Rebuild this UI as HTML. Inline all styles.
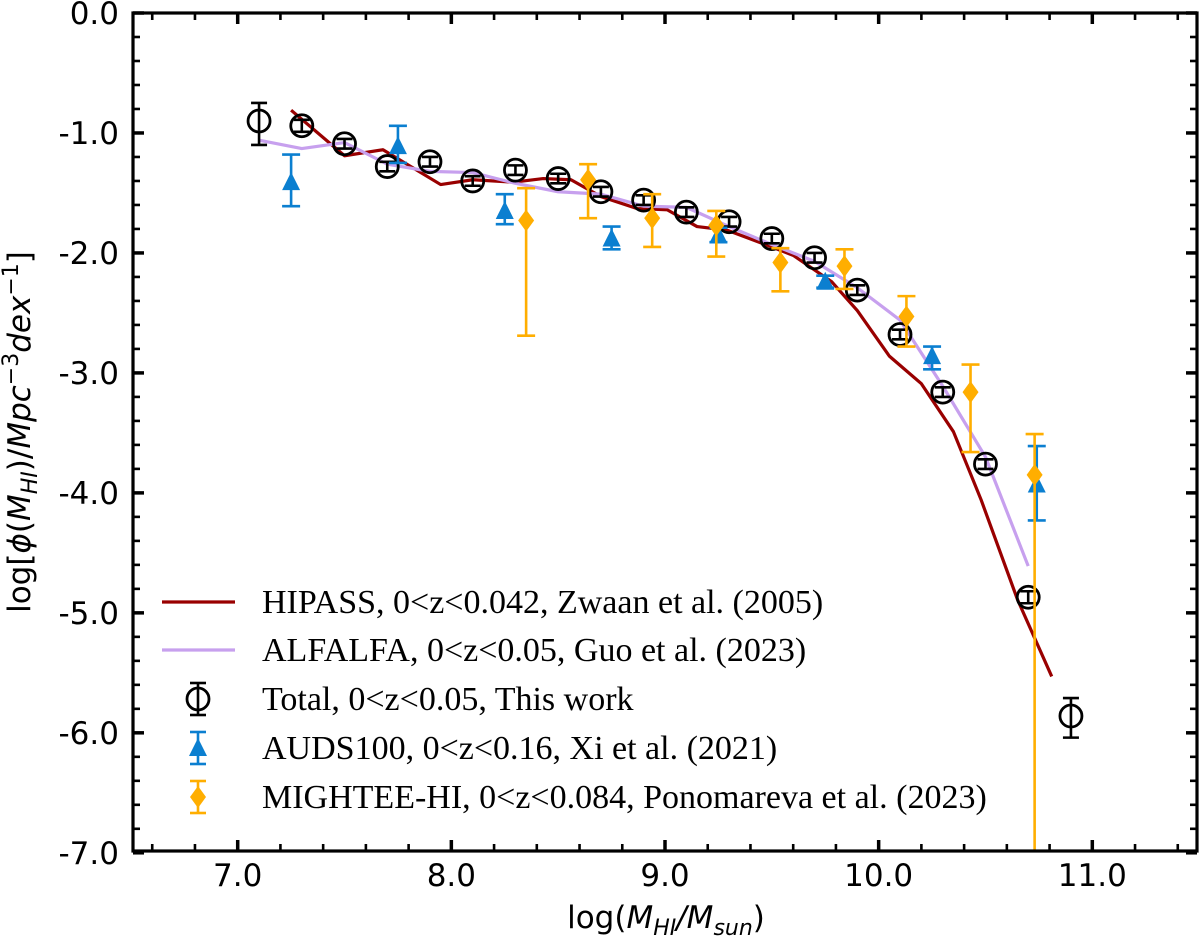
<!DOCTYPE html>
<html><head><meta charset="utf-8"><style>
html,body{margin:0;padding:0;background:#fff;}
svg{display:block;}
.tk{font-family:"DejaVu Sans","Liberation Sans",sans-serif;font-size:31px;fill:#000;}
.lg{font-family:"Liberation Serif",serif;font-size:34px;fill:#000;}
</style></head><body>
<svg id="chart" width="1200" height="945" viewBox="0 0 1200 945" xmlns="http://www.w3.org/2000/svg">
<g id="plot"></g>
<text class="tk" x="666" y="928" text-anchor="middle">log(<tspan font-style="italic">M</tspan><tspan font-style="italic" font-size="22" dy="7">HI</tspan><tspan font-style="italic" dy="-7">/M</tspan><tspan font-style="italic" font-size="22" dy="7">sun</tspan><tspan dy="-7">)</tspan></text>
<text class="tk" transform="translate(30,432) rotate(-90)" text-anchor="middle">log[<tspan font-style="italic">ϕ</tspan>(<tspan font-style="italic">M</tspan><tspan font-style="italic" font-size="22" dy="7">HI</tspan><tspan dy="-7">)/</tspan><tspan font-style="italic">Mpc</tspan><tspan font-size="22" dy="-12">−3</tspan><tspan font-style="italic" dy="12">dex</tspan><tspan font-size="22" dy="-12">−1</tspan><tspan dy="12">]</tspan></text>
</svg>
<script>
// ---- data ----
const totalX = [7.1,7.3,7.5,7.7,7.9,8.1,8.3,8.5,8.7,8.9,9.1,9.3,9.5,9.7,9.9,10.1,10.3,10.5,10.7,10.9];
const totalY = [-0.90,-0.94,-1.09,-1.28,-1.24,-1.40,-1.31,-1.38,-1.49,-1.56,-1.66,-1.74,-1.88,-2.04,-2.31,-2.68,-3.16,-3.76,-4.87,-5.86];
const totalErrUp = [0.15,0.05,0.04,0.04,0.04,0.04,0.04,0.04,0.04,0.04,0.04,0.04,0.04,0.04,0.04,0.04,0.04,0.04,0.05,0.15];
const totalErrDn = [0.20,0.05,0.04,0.04,0.04,0.04,0.04,0.04,0.04,0.04,0.04,0.04,0.04,0.04,0.04,0.04,0.04,0.04,0.05,0.18];
const audsX = [7.25,7.75,8.25,8.75,9.25,9.75,10.25,10.74];
const audsY = [-1.41,-1.11,-1.65,-1.88,-1.85,-2.24,-2.86,-3.93];
const audsErrUp = [0.23,0.17,0.14,0.10,0.06,0.05,0.08,0.32];
const audsErrDn = [0.20,0.14,0.11,0.09,0.06,0.05,0.11,0.30];
const mightX = [8.35,8.64,8.94,9.24,9.54,9.84,10.13,10.43,10.73];
const mightY = [-1.73,-1.39,-1.71,-1.77,-2.08,-2.11,-2.53,-3.16,-3.85];
const mightErrUp = [0.27,0.13,0.20,0.12,0.12,0.14,0.17,0.23,0.34];
const mightErrDn = [0.96,0.32,0.24,0.26,0.24,0.19,0.25,0.50,3.5];
const hipassX = [7.25,7.5,7.68,7.95,8.1,8.29,8.43,8.56,8.7,8.87,9.01,9.15,9.29,9.47,9.6,9.78,9.9,10.05,10.2,10.35,10.48,10.65,10.81];
const hipassY = [-0.81,-1.19,-1.14,-1.43,-1.39,-1.41,-1.38,-1.39,-1.53,-1.63,-1.64,-1.78,-1.81,-1.93,-2.02,-2.24,-2.48,-2.86,-3.09,-3.49,-4.06,-4.89,-5.53];
const alfaX = [7.1,7.3,7.5,7.7,7.9,8.1,8.3,8.5,8.7,8.9,9.1,9.3,9.5,9.7,9.9,10.1,10.3,10.5,10.7];
const alfaY = [-1.06,-1.13,-1.08,-1.26,-1.32,-1.33,-1.42,-1.49,-1.51,-1.61,-1.62,-1.78,-1.93,-2.07,-2.29,-2.56,-3.11,-3.70,-4.61];
const xTicks = [7.0,8.0,9.0,10.0,11.0];
const xTickLabels = ["7.0","8.0","9.0","10.0","11.0"];
const yTicks = [0,-1,-2,-3,-4,-5,-6,-7];
const yTickLabels = ["0.0","-1.0","-2.0","-3.0","-4.0","-5.0","-6.0","-7.0"];
const legendLabels = ["HIPASS, 0<z<0.042, Zwaan et al. (2005)","ALFALFA, 0<z<0.05, Guo et al. (2023)","Total, 0<z<0.05, This work","AUDS100, 0<z<0.16, Xi et al. (2021)","MIGHTEE-HI, 0<z<0.084, Ponomareva et al. (2023)"];

const L=133,R=1197,T=13,B=851;
const XMIN=6.51,XMAX=11.49,YMIN=-6.985,YMAX=0;
const sx=v=>L+(v-XMIN)/(XMAX-XMIN)*(R-L);
const sy=v=>T+(YMAX-v)/(YMAX-YMIN)*(B-T);
const NS="http://www.w3.org/2000/svg";
const plot=document.getElementById('plot');
function mk(tag,attrs,parent){const e=document.createElementNS(NS,tag);for(const k in attrs)e.setAttribute(k,attrs[k]);(parent||plot).appendChild(e);return e;}

const clip=mk('clipPath',{id:'pc'});mk('rect',{x:L,y:T,width:R-L,height:B-T},clip);
const dataG=mk('g',{'clip-path':'url(#pc)'});

function line(xs,ys,color,name){
  const p=mk('polyline',{points:xs.map((x,i)=>sx(x)+','+sy(ys[i])).join(' '),fill:'none',stroke:color,'stroke-width':3.2,'stroke-linejoin':'round'},dataG);
  
  
}
line(hipassX,hipassY,'#990000','hipass-line');
line(alfaX,alfaY,'#c7a0ee','alfalfa-line');

function errbar(g,x,y,up,dn,color,cap){
  const px=sx(x);
  mk('line',{x1:px,x2:px,y1:sy(y+up),y2:sy(y-dn),stroke:color,'stroke-width':2.6},g);
  mk('line',{x1:px-cap,x2:px+cap,y1:sy(y+up),y2:sy(y+up),stroke:color,'stroke-width':2.6},g);
  mk('line',{x1:px-cap,x2:px+cap,y1:sy(y-dn),y2:sy(y-dn),stroke:color,'stroke-width':2.6},g);
}
totalX.forEach((x,i)=>{
  const g=mk('g',{},dataG);
  
  
  mk('circle',{cx:sx(x),cy:sy(totalY[i]),r:11,fill:'none',stroke:'#000','stroke-width':2.8},g);
  errbar(g,x,totalY[i],totalErrUp[i],totalErrDn[i],'#000',8);
});
audsX.forEach((x,i)=>{
  const g=mk('g',{},dataG);
  
  
  errbar(g,x,audsY[i],audsErrUp[i],audsErrDn[i],'#0b7fd0',9);
  const px=sx(x),py=sy(audsY[i]);
  mk('polygon',{points:`${px},${py-10} ${px-9},${py+8} ${px+9},${py+8}`,fill:'#0b7fd0'},g);
});
mightX.forEach((x,i)=>{
  const g=mk('g',{},dataG);
  
  
  errbar(g,x,mightY[i],mightErrUp[i],mightErrDn[i],'#ffae00',9);
  const px=sx(x),py=sy(mightY[i]);
  mk('polygon',{points:`${px},${py-11} ${px+8},${py} ${px},${py+11} ${px-8},${py}`,fill:'#ffae00'},g);
});

// frame and ticks
const frame=mk('rect',{x:L,y:T,width:R-L,height:B-T,fill:'none',stroke:'#000','stroke-width':3.2});


for(let k=0;k<=25;k++){
  const v=6.6+k*0.2; if(v>XMAX)break;
  const major=Math.abs(v-Math.round(v))<1e-6; const len=major?11:7; const w=major?3.5:2.6; const px=sx(v);
  mk('line',{x1:px,x2:px,y1:B,y2:B-len,stroke:'#000','stroke-width':w});
  mk('line',{x1:px,x2:px,y1:T,y2:T+len,stroke:'#000','stroke-width':w});
}
for(let k=0;k<=35;k++){
  const v=-k*0.2; const major=k%5===0; const len=major?11:7; const w=major?3.5:2.6; const py=sy(v);
  mk('line',{x1:L,x2:L+len,y1:py,y2:py,stroke:'#000','stroke-width':w});
  mk('line',{x1:R,x2:R-len,y1:py,y2:py,stroke:'#000','stroke-width':w});
}
xTicks.forEach((v,i)=>{
  const t=mk('text',{x:sx(v),y:886,'text-anchor':'middle',class:'tk'});t.textContent=xTickLabels[i];
  
  
});
yTicks.forEach((v,i)=>{
  const t=mk('text',{x:119,y:sy(v)+11,'text-anchor':'end',class:'tk'});t.textContent=yTickLabels[i];
  
  
});

// legend
const leg=mk('g',{});


const rowY=[602,650,699,748,797];
legendLabels.forEach((lab,i)=>{
  const g=mk('g',{},leg);
  
  
  const y=rowY[i];
  if(i<2){mk('line',{x1:162,x2:235,y1:y,y2:y,stroke:i===0?'#990000':'#c7a0ee','stroke-width':3.2},g);}
  else{
    const c=['#000','#0b7fd0','#ffae00'][i-2],cx=198;
    mk('line',{x1:cx,x2:cx,y1:y-16,y2:y+16,stroke:c,'stroke-width':2.6},g);
    mk('line',{x1:cx-8,x2:cx+8,y1:y-16,y2:y-16,stroke:c,'stroke-width':2.6},g);
    mk('line',{x1:cx-8,x2:cx+8,y1:y+16,y2:y+16,stroke:c,'stroke-width':2.6},g);
    if(i===2)mk('circle',{cx:cx,cy:y,r:11,fill:'none',stroke:'#000','stroke-width':2.8},g);
    if(i===3)mk('polygon',{points:`${cx},${y-10} ${cx-9},${y+8} ${cx+9},${y+8}`,fill:c},g);
    if(i===4)mk('polygon',{points:`${cx},${y-11} ${cx+8},${y} ${cx},${y+11} ${cx-8},${y}`,fill:c},g);
  }
  const t=mk('text',{x:262,y:y+11,class:'lg'},g);t.textContent=lab;
});
</script>
</body></html>
